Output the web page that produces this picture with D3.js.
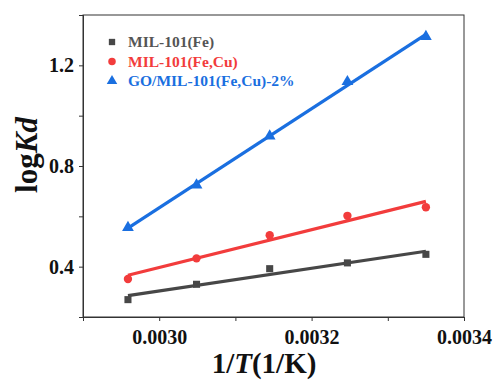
<!DOCTYPE html>
<html>
<head>
<meta charset="utf-8">
<title>logKd vs 1/T</title>
<script src="https://d3js.org/d3.v7.min.js"></script>
<style>
  body { margin: 0; background: #fff; }
</style>
</head>
<body>
<svg width="495" height="382"></svg>
<script>
// data
const invT = [0.002959, 0.003049, 0.003145, 0.003247, 0.003350];
const feVals = [0.269, 0.330, 0.392, 0.415, 0.449];
const feCuVals = [0.351, 0.433, 0.525, 0.602, 0.636];
const goVals = [0.555, 0.724, 0.919, 1.135, 1.314];
const seriesNames = ["MIL-101(Fe)", "MIL-101(Fe,Cu)", "GO/MIL-101(Fe,Cu)-2%"];
const xTicks = [0.0030, 0.0032, 0.0034];
const xMinor = [0.0029, 0.0031, 0.0033];
const yTicks = [0.4, 0.8, 1.2];
const yMinor = [0.2, 0.6, 1.0, 1.4];

const FONT = "Liberation Serif";
const width = 495, height = 382;
const margin = { top: 15, right: 31, bottom: 65, left: 83 };
const innerWidth = width - margin.left - margin.right;
const innerHeight = height - margin.top - margin.bottom;

const x = d3.scaleLinear().domain([0.0029, 0.0034]).range([0, innerWidth]);
const y = d3.scaleLinear().domain([0.2, 1.4]).range([innerHeight, 0]);

const svg = d3.select("svg");
const g = svg.append("g").attr("transform", `translate(${margin.left},${margin.top})`);

const series = [
  { name: seriesNames[0], vals: feVals, color: "#474747", text: "#555555", shape: d3.symbolSquare, size: 50 },
  { name: seriesNames[1], vals: feCuVals, color: "#f23c3c", text: "#f23c3c", shape: d3.symbolCircle, size: 55 },
  { name: seriesNames[2], vals: goVals, color: "#1a6fe0", text: "#1a6fe0", shape: d3.symbolTriangle, size: 60 }
];

// least squares fit line through each series
function fit(xs, ys) {
  const mx = d3.mean(xs), my = d3.mean(ys);
  let sxy = 0, sxx = 0;
  xs.forEach((v, i) => { sxy += (v - mx) * (ys[i] - my); sxx += (v - mx) * (v - mx); });
  const k = sxy / sxx;
  return v => my + k * (v - mx);
}

const line = d3.line().x(d => x(d[0])).y(d => y(d[1]));

series.forEach(s => {
  const f = fit(invT, s.vals);
  const ends = d3.extent(invT);
  g.append("path")
    .datum(ends.map(v => [v, f(v)]))
    .attr("fill", "none")
    .attr("stroke", s.color)
    .attr("stroke-width", 3.2)
    .attr("d", line);
  g.selectAll(null)
    .data(invT.map((v, i) => [v, s.vals[i]]))
    .enter().append("path")
    .attr("transform", d => `translate(${x(d[0])},${y(d[1])})`)
    .attr("d", d3.symbol().type(s.shape).size(s.size))
    .attr("fill", s.color);
});

// frame
g.append("rect").attr("width", innerWidth).attr("height", innerHeight)
  .attr("fill", "none").attr("stroke", "#333").attr("stroke-width", 1);

// minor ticks (no labels)
const xMin = g.append("g").attr("transform", `translate(0,${innerHeight})`)
  .call(d3.axisBottom(x).tickValues(xMinor).tickSize(4).tickFormat(""));
const yMin = g.append("g")
  .call(d3.axisLeft(y).tickValues(yMinor).tickSize(4).tickFormat(""));
[xMin, yMin].forEach(a => {
  a.selectAll("text").remove();
  a.select(".domain").attr("stroke", "#333");
  a.selectAll(".tick line").attr("stroke", "#333");
});

// major axes
const xAxis = g.append("g").attr("transform", `translate(0,${innerHeight})`)
  .attr("font-family", FONT).attr("font-size", 20)
  .call(d3.axisBottom(x).tickValues(xTicks).tickSize(4).tickFormat(d3.format(".4f")));
xAxis.attr("font-family", FONT).attr("font-size", 20).attr("font-weight", "bold");
xAxis.select(".domain").attr("stroke", "#333");
xAxis.selectAll(".tick line").attr("stroke", "#333");
xAxis.selectAll(".tick text").attr("fill", "#111").attr("y", 13);

const yAxis = g.append("g")
  .call(d3.axisLeft(y).tickValues(yTicks).tickSize(4).tickFormat(d3.format(".1f")));
yAxis.attr("font-family", FONT).attr("font-size", 20).attr("font-weight", "bold");
yAxis.select(".domain").attr("stroke", "#333");
yAxis.selectAll(".tick line").attr("stroke", "#333");
yAxis.selectAll(".tick text").attr("fill", "#111").attr("x", -9);

// axis titles
const xt = svg.append("text").attr("x", 264).attr("y", 373)
  .attr("text-anchor", "middle").attr("font-family", FONT).attr("font-weight", "bold")
  .attr("font-size", 29).attr("fill", "#111");
xt.append("tspan").text("1/");
xt.append("tspan").attr("font-style", "italic").text("T");
xt.append("tspan").text("(1/K)");

const yt = svg.append("text").attr("transform", "translate(37,155) rotate(-90)")
  .attr("text-anchor", "middle").attr("font-family", FONT).attr("font-weight", "bold")
  .attr("font-size", 31).attr("fill", "#111");
yt.append("tspan").text("log");
yt.append("tspan").attr("font-style", "italic").text("K");
yt.append("tspan").attr("font-style", "italic").text("d");

// legend
const legend = g.append("g").attr("transform", "translate(29,27)");
series.forEach((s, i) => {
  const row = legend.append("g").attr("transform", `translate(0,${i * 19.5})`);
  row.append("path").attr("d", d3.symbol().type(s.shape).size(s.size * 0.8)).attr("fill", s.color);
  row.append("text").attr("x", 16).attr("dy", "0.35em").attr("font-size", 15.5)
    .attr("font-family", FONT).attr("font-weight", "bold")
    .attr("fill", s.text).text(s.name);
});
</script>
</body>
</html>
